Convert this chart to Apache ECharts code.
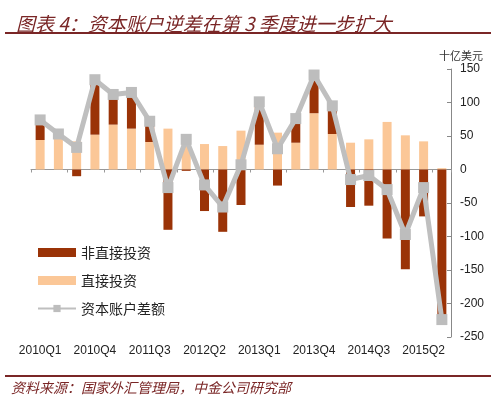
<!DOCTYPE html>
<html>
<head>
<meta charset="utf-8">
<script src="https://cdn.jsdelivr.net/npm/echarts@6/dist/echarts.min.js"></script>
<style>
  html, body { margin: 0; padding: 0; background: #fff; }
  #chart { width: 500px; height: 399px; }
</style>
</head>
<body>
<div id="chart"></div>
<script>
  // 季度
  let quarters = [
    '2010Q1', '2010Q2', '2010Q3', '2010Q4',
    '2011Q1', '2011Q2', '2011Q3', '2011Q4',
    '2012Q1', '2012Q2', '2012Q3', '2012Q4',
    '2013Q1', '2013Q2', '2013Q3', '2013Q4',
    '2014Q1', '2014Q2', '2014Q3', '2014Q4',
    '2015Q1', '2015Q2', '2015Q3'
  ];
  // 直接投资 (十亿美元)
  let directInv = [44, 47, 42, 52, 67, 61, 41, 61, 46, 38, 35, 58, 37, 55, 40, 84, 53, 40, 45, 71, 51, 42, 2];
  // 非直接投资
  let nonDirectInv = [30, 6, -10, 82, 45, 53, 30, -90, -2, -62, -93, -53, 64, -24, 36, 57, 42, -56, -54, -103, -149, -70, -226];
  // 资本账户差额
  let balance = [74, 53, 33, 134, 112, 115, 72, -27, 45, -23, -56, 7, 101, 31, 76, 141, 95, -15, -9, -30, -97, -27, -224];
  let yTicks = { min: -250, max: 150, step: 50 };

  let dom = document.getElementById('chart');
  let myChart = echarts.init(dom);
  let maroon = '#7a2626';
  let cjk = '"Noto Sans CJK SC", sans-serif';
  let option = {
    animation: false,
    textStyle: { fontFamily: '"Liberation Sans", Arial, sans-serif' },
    title: {
      text: '图表 4：资本账户逆差在第 3 季度进一步扩大',
      left: 11,
      top: 9,
      textStyle: {
        fontFamily: cjk,
        fontStyle: 'italic',
        fontWeight: 'normal',
        fontSize: 19,
        color: maroon
      }
    },
    graphic: [
      { type: 'rect', shape: { x: 5, y: 32, width: 486, height: 2 }, style: { fill: maroon } },
      { type: 'rect', shape: { x: 5, y: 375, width: 486, height: 2 }, style: { fill: maroon } },
      {
        type: 'text', left: 11, top: 381,
        style: {
          text: '资料来源：国家外汇管理局，中金公司研究部',
          fontFamily: cjk,
          fontStyle: 'italic',
          fontSize: 14,
          fill: maroon
        }
      },
      {
        type: 'text', left: 439, top: 50,
        style: {
          text: '十亿美元',
          fontFamily: cjk,
          fontSize: 11,
          fill: '#333'
        }
      }
    ],
    legend: {
      orient: 'vertical',
      left: 32,
      top: 240,
      itemWidth: 38,
      itemHeight: 9,
      itemGap: 13,
      textStyle: {
        fontFamily: cjk,
        fontSize: 14,
        color: '#222',
        lineHeight: 15
      },
      data: [
        { name: '非直接投资', icon: 'rect' },
        { name: '直接投资', icon: 'rect' },
        { name: '资本账户差额' }
      ]
    },
    grid: { left: 31, right: 49, top: 69, bottom: 62 },
    xAxis: [
      {
        type: 'category',
        data: quarters,
        position: 'bottom',
        axisLine: { show: false, onZero: false },
        axisTick: { show: false },
        axisLabel: { interval: 2, margin: 8, fontSize: 12, color: '#222' }
      },
      {
        type: 'category',
        data: quarters,
        position: 'bottom',
        axisLine: { show: true, onZero: true, lineStyle: { color: '#999', width: 1 } },
        axisTick: { show: true, interval: 1, length: 3, lineStyle: { color: '#999' } },
        axisLabel: { show: false }
      }
    ],
    yAxis: {
      type: 'value',
      position: 'right',
      min: yTicks.min,
      max: yTicks.max,
      interval: yTicks.step,
      splitLine: { show: false },
      axisLine: { show: true, lineStyle: { color: '#888' } },
      axisTick: { show: true, inside: true, length: 4, lineStyle: { color: '#888' } },
      axisLabel: { margin: 9, fontSize: 12, color: '#222' }
    },
    series: [
      {
        name: '直接投资',
        type: 'bar',
        stack: 'inv',
        barWidth: 9,
        itemStyle: { color: '#fbc797' },
        data: directInv
      },
      {
        name: '非直接投资',
        type: 'bar',
        stack: 'inv',
        barWidth: 9,
        itemStyle: { color: '#9a3307' },
        data: nonDirectInv
      },
      {
        name: '资本账户差额',
        type: 'line',
        symbol: 'rect',
        symbolSize: 11,
        z: 5,
        lineStyle: { color: '#bfbfbf', width: 5 },
        itemStyle: { color: '#bdbdbd' },
        data: balance
      }
    ]
  };
  myChart.setOption(option);
  window.addEventListener('resize', () => { myChart.resize(); });
</script>
</body>
</html>
